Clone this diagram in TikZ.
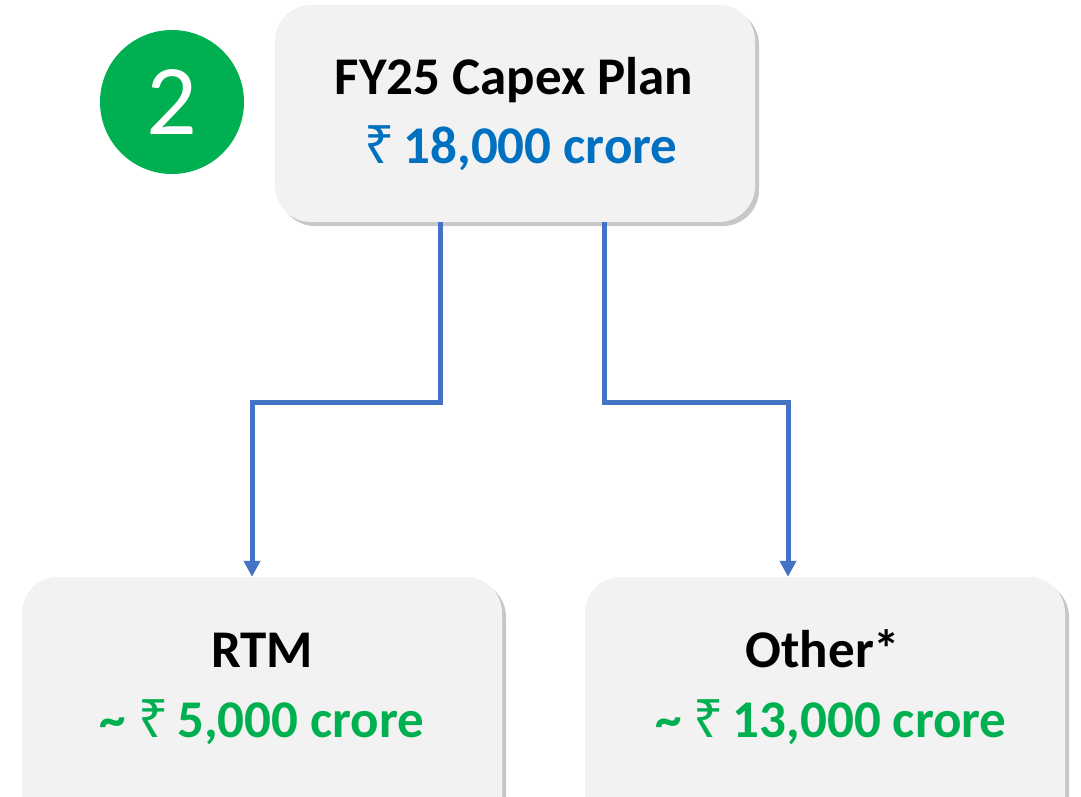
\documentclass[tikz,border=0pt]{standalone}
\usepackage{fontspec}
\setmainfont{Carlito}
\newfontfamily\rupeefont{Noto Sans}
\usetikzlibrary{shadows,arrows.meta}
\definecolor{boxfill}{HTML}{F2F2F2}
\definecolor{linkblue}{HTML}{4472C4}
\definecolor{txtblue}{HTML}{0070C0}
\definecolor{txtgreen}{HTML}{00B050}
\definecolor{badge}{HTML}{00B050}
\newcommand{\rs}{{\rupeefont\bfseries ₹}}
\tikzset{
  card/.style={fill=boxfill, rounded corners=36pt, draw=none,
    drop shadow={shadow xshift=4pt, shadow yshift=-4pt, fill=black, opacity=0.22}},
  link/.style={draw=linkblue, line width=5pt, -{Triangle[length=16pt,width=16pt]}},
  head/.style={font=\bfseries\fontsize{53}{56}\selectfont, text=black, inner sep=0pt},
  amt/.style={font=\bfseries\fontsize{53}{56}\selectfont, inner sep=0pt},
}
\begin{document}
\begin{tikzpicture}[x=1pt,y=-1pt]
\useasboundingbox (0,0) rectangle (1081,797);
% cards
\path[card] (275,5) rectangle (755,222);
\path[card] (22,577) rectangle (502,840);
\path[card] (585,577) rectangle (1065,840);
\node[name=top, inner sep=0pt, minimum width=480pt, minimum height=217pt] at (515,113.5) {};
\node[name=left, inner sep=0pt, minimum width=480pt, minimum height=263pt] at (262,708.5) {};
\node[name=right, inner sep=0pt, minimum width=480pt, minimum height=263pt] at (825,708.5) {};
% badge
\node[name=badge, circle, fill=badge, minimum size=144pt, inner sep=0pt, text=white,
  font=\fontsize{100}{104}\selectfont] at (172,102) {2};
% texts
\node[head, anchor=base, name=t1] at (514,95) {FY25 Capex Plan};
\node[amt, text=txtblue, anchor=base, name=t2] at (521,164) {\rs\,18,000 crore};
\node[head, anchor=base, name=t3] at (262,667) {RTM};
\node[amt, text=txtgreen, anchor=base, name=t4] at (262,737) {\textasciitilde\ \rs\,5,000 crore};
\node[head, anchor=base, name=t5] at (823,667) {Other*};
\node[amt, text=txtgreen, anchor=base, name=t6] at (831,737) {\textasciitilde\ \rs\,13,000 crore};
% connectors
\coordinate (a1) at (top.south -| 440,0);
\coordinate (b1) at (left.north -| 252,0);
\coordinate (a2) at (top.south -| 604,0);
\coordinate (b2) at (right.north -| 788,0);
\draw[link] (a1) |- (346,402) -| (b1);
\draw[link] (a2) |- (696,402) -| (b2);
\end{tikzpicture}
\end{document}
